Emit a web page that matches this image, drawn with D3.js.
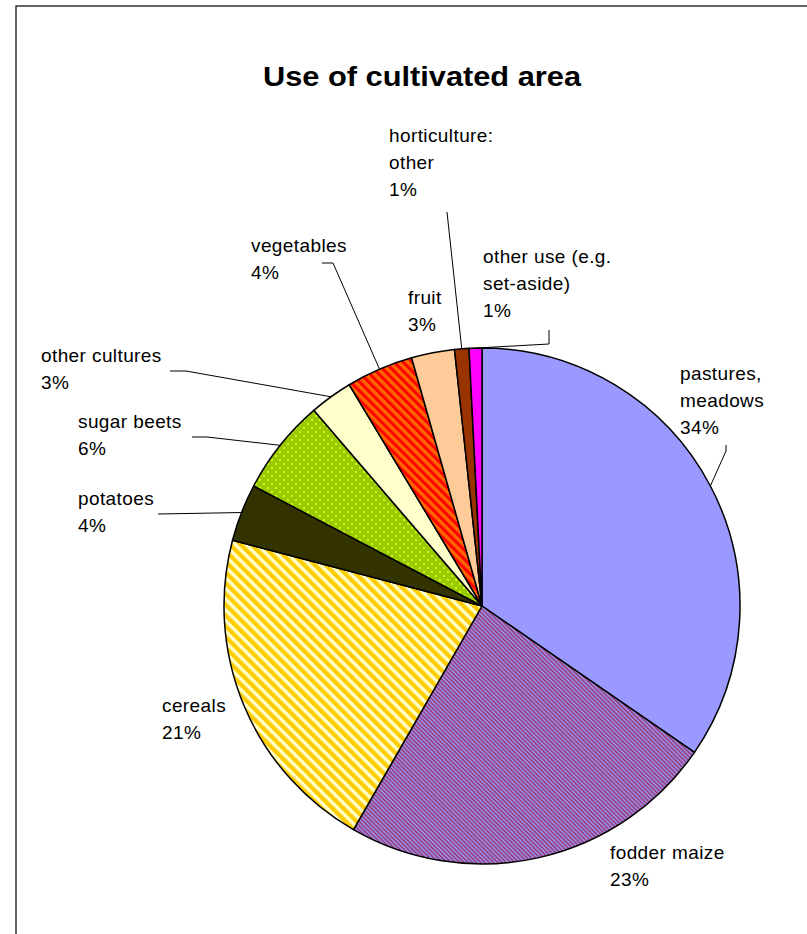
<!DOCTYPE html>
<html>
<head>
<meta charset="utf-8">
<script src="https://cdn.jsdelivr.net/npm/d3@7"></script>
<style>
  body { margin: 0; background: #fff; }
  text { font-family: "Liberation Sans", Arial, sans-serif; fill: #000; }
</style>
</head>
<body>
<svg width="807" height="934"></svg>
<script>
// slices, clockwise from 12 o'clock
const categories = ["pastures, meadows", "fodder maize", "cereals", "potatoes", "sugar beets",
  "other cultures", "vegetables", "fruit", "horticulture: other", "other use (e.g. set-aside)"];
const values = [34.6, 23.7, 20.8, 3.6, 6.0, 2.7, 4.2, 2.7, 0.9, 0.8];
const pctLabels = ["34%", "23%", "21%", "4%", "6%", "3%", "4%", "3%", "1%", "1%"];
const labelLines = [
  ["pastures,", "meadows"], ["fodder maize"], ["cereals"], ["potatoes"], ["sugar beets"],
  ["other cultures"], ["vegetables"], ["fruit"], ["horticulture:", "other"], ["other use (e.g.", "set-aside)"]
];
const fills = ["#9999ff", "url(#p-fodder)", "url(#p-cereals)", "#333300", "url(#p-beets)",
  "#ffffcc", "url(#p-veg)", "#ffcc99", "#993300", "#ff00ff"];

// label layout: text anchor (x, first baseline) and leader path from label toward the slice
const labelPos = [
  { x: 680, y: 380, leader: [[726, 445], [726, 451]] },
  { x: 610, y: 859, leader: null },
  { x: 162, y: 712, leader: null },
  { x: 78, y: 505, leader: [[158, 514]] },
  { x: 78, y: 428, leader: [[192, 437], [207, 437]] },
  { x: 41, y: 362, leader: [[170, 371], [186, 371]] },
  { x: 251, y: 252, leader: [[322, 263], [333, 263]] },
  { x: 408, y: 304, leader: null },
  { x: 389, y: 142, leader: [[447, 212]] },
  { x: 483, y: 263, leader: [[549, 330], [549, 344]] }
];

const cx = 482, cy = 606, radius = 258, lineGap = 27;

const svg = d3.select("svg");

// patterns
const defs = svg.append("defs");
function stripes(id, a, b, wa, wb) {
  const p = defs.append("pattern")
    .attr("id", id).attr("patternUnits", "userSpaceOnUse")
    .attr("width", wa + wb).attr("height", 10)
    .attr("patternTransform", "rotate(-45)");
  p.append("rect").attr("width", wa + wb).attr("height", 10).attr("fill", b);
  p.append("rect").attr("width", wa).attr("height", 10).attr("fill", a);
}
stripes("p-fodder", "#993366", "#9999ff", 1.5, 1.5);
stripes("p-cereals", "#ffcc00", "#ffffcc", 4.2, 3.4);
stripes("p-veg", "#ff0000", "#ff6600", 3, 3.4);
const dots = defs.append("pattern")
  .attr("id", "p-beets").attr("patternUnits", "userSpaceOnUse")
  .attr("width", 8).attr("height", 8);
dots.append("rect").attr("width", 8).attr("height", 8).attr("fill", "#99cc00");
dots.append("circle").attr("cx", 2).attr("cy", 2).attr("r", 0.9).attr("fill", "#ffff33");
dots.append("circle").attr("cx", 6).attr("cy", 6).attr("r", 0.9).attr("fill", "#ffff33");

// frame
svg.append("rect")
  .attr("x", 16).attr("y", 6).attr("width", 820).attr("height", 1000)
  .attr("fill", "none").attr("stroke", "#333").attr("stroke-width", 1.5);

svg.append("text")
  .attr("x", 422).attr("y", 86)
  .attr("text-anchor", "middle")
  .attr("font-size", 27).attr("font-weight", "bold")
  .attr("textLength", 318).attr("lengthAdjust", "spacingAndGlyphs")
  .text("Use of cultivated area");

const pie = d3.pie().sort(null).value(d => d)(values);
const arc = d3.arc().innerRadius(0).outerRadius(radius);

const g = svg.append("g").attr("transform", `translate(${cx},${cy})`);
g.selectAll("path.slice")
  .data(pie)
  .enter()
  .append("path")
  .attr("class", "slice")
  .attr("d", arc)
  .attr("fill", (d, i) => fills[i])
  .attr("stroke", "#000")
  .attr("stroke-width", 1.5)
  .attr("stroke-linejoin", "round");

// leader lines end on the rim at the slice's mid angle
pie.forEach((d, i) => {
  const lp = labelPos[i];
  if (!lp.leader) return;
  const mid = (d.startAngle + d.endAngle) / 2;
  const end = [cx + radius * Math.sin(mid), cy - radius * Math.cos(mid)];
  svg.append("path")
    .attr("d", d3.line()([...lp.leader, end]))
    .attr("fill", "none")
    .attr("stroke", "#000")
    .attr("stroke-width", 1);
});

// labels
labelPos.forEach((lp, i) => {
  const t = svg.append("text")
    .attr("font-size", 19)
    .attr("letter-spacing", 0.4);
  [...labelLines[i], pctLabels[i]].forEach((line, j) => {
    t.append("tspan").attr("x", lp.x).attr("y", lp.y + j * lineGap).text(line);
  });
});
</script>
</body>
</html>
